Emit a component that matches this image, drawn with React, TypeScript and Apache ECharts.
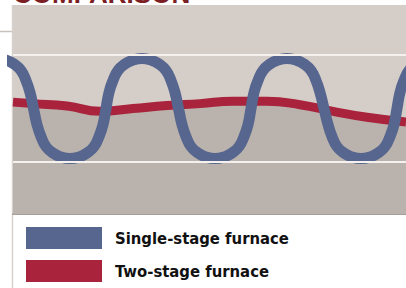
import React, { useEffect, useRef } from "react";
import * as echarts from "echarts";

const titleText = "COMPARISON";
const seriesNames = ["Single-stage furnace", "Two-stage furnace"];
const gridLineValues = [25, 75];

// Single-stage furnace: time position and value
const singleStageX = [
  -16, -6, 1, 8, 13, 17, 20.5, 24, 28, 33, 40, 47, 57,
  67, 74, 81, 86, 90, 93, 96, 100, 105, 112, 119, 129,
  139, 146, 153, 158, 162, 165.5, 169, 173, 178, 185, 192, 202,
  212, 219, 226, 231, 235, 238, 241, 245, 250, 257, 264, 274,
  284, 291, 298, 303, 307, 311, 315, 319, 324, 331, 338, 348,
  358, 365, 372, 377, 381, 384, 387, 391, 396, 403, 410, 420,
];
const singleStageY = [
  73.4, 72.5, 70.8, 67.8, 63.1, 57.5, 50, 42.5, 36.9, 32.2, 29.2, 27.5, 26.6,
  27.5, 29.2, 32.2, 36.9, 42.5, 50, 57.5, 63.1, 67.8, 70.8, 72.5, 73.4,
  72.5, 70.8, 67.8, 63.1, 57.5, 50, 42.5, 36.9, 32.2, 29.2, 27.5, 26.6,
  27.5, 29.2, 32.2, 36.9, 42.5, 50, 57.5, 63.1, 67.8, 70.8, 72.5, 73.4,
  72.5, 70.8, 67.8, 63.1, 57.5, 50, 42.5, 36.9, 32.2, 29.2, 27.5, 26.6,
  27.5, 29.2, 32.2, 36.9, 42.5, 50, 57.5, 63.1, 67.8, 70.8, 72.5, 73.4,
];

// Two-stage furnace
const twoStageX = [0, 20, 54, 87, 120, 154, 187, 220, 254, 287, 320, 354, 393];
const twoStageY = [53.0, 52.3, 51.2, 48.7, 50.0, 51.4, 52.3, 53.4, 53.4, 51.8, 48.7, 45.9, 43.7];

const BLUE = "#56668f";
const RED = "#a8233b";

export default function App() {
  const ref = useRef<HTMLDivElement>(null);
  useEffect(() => {
    if (!ref.current) return;
    const chart = echarts.init(ref.current, undefined, { renderer: "svg" });
    const single = singleStageX.map((x, i) => [x, singleStageY[i]]);
    const two = twoStageX.map((x, i) => [x, twoStageY[i]]);
    chart.setOption({
      animation: false,
      grid: {
        left: 13,
        right: 0,
        top: 5,
        bottom: 74,
        show: true,
        backgroundColor: "#d5cdc8",
        borderWidth: 0,
      },
      xAxis: {
        type: "value",
        min: 0,
        max: 393,
        axisLine: { show: true, onZero: false, lineStyle: { color: "#a69e99", width: 2 } },
        axisTick: { show: false },
        axisLabel: { show: false },
        splitLine: { show: false },
      },
      yAxis: {
        type: "value",
        min: 0.7,
        max: 98.4,
        axisLine: { show: false },
        axisTick: { show: false },
        axisLabel: { show: false },
        splitLine: { show: false },
      },
      legend: {
        data: seriesNames,
        orient: "vertical",
        left: 26,
        top: 227,
        padding: 0,
        itemGap: 11,
        itemWidth: 76,
        itemHeight: 22,
        icon: "rect",
        selectedMode: false,
        textStyle: {
          fontFamily: "'DejaVu Sans Condensed', 'Liberation Sans Narrow', sans-serif",
          fontWeight: "bold",
          fontSize: 16.5,
          color: "#111",
          padding: [2, 0, 0, 8],
        },
      },
      graphic: [
        {
          type: "text",
          left: 13,
          top: -19,
          z: 10,
          style: {
            text: titleText,
            fill: "#7b1f24",
            font: "bold 26px 'Liberation Sans', Arial, sans-serif",
          },
        },
        {
          type: "line",
          shape: { x1: 0, y1: 31.5, x2: 12, y2: 31.5 },
          style: { stroke: "#c9c1bc", lineWidth: 1.5 },
        },
        {
          type: "line",
          shape: { x1: 12.5, y1: 5, x2: 12.5, y2: 288 },
          style: { stroke: "#d9d1cc", lineWidth: 1.5 },
        },
      ],
      series: [
        {
          name: seriesNames[1],
          type: "line",
          data: two,
          smooth: 0.5,
          showSymbol: false,
          symbol: "none",
          itemStyle: { color: RED },
          lineStyle: { color: RED, width: 9 },
          areaStyle: { color: "#bab2ac", opacity: 1, origin: "start" },
          markLine: {
            silent: true,
            symbol: "none",
            label: { show: false },
            lineStyle: { color: "#f4f1ef", width: 2, type: "solid" },
            data: gridLineValues.map((v) => ({ yAxis: v })),
          },
        },
        {
          name: seriesNames[0],
          type: "line",
          data: single,
          smooth: 0.5,
          showSymbol: false,
          symbol: "none",
          itemStyle: { color: BLUE },
          lineStyle: { color: BLUE, width: 11 },
        },
      ],
    });
    return () => chart.dispose();
  }, []);
  return <div ref={ref} style={{ width: 406, height: 288, position: "absolute", left: 0, top: 0 }} />;
}
